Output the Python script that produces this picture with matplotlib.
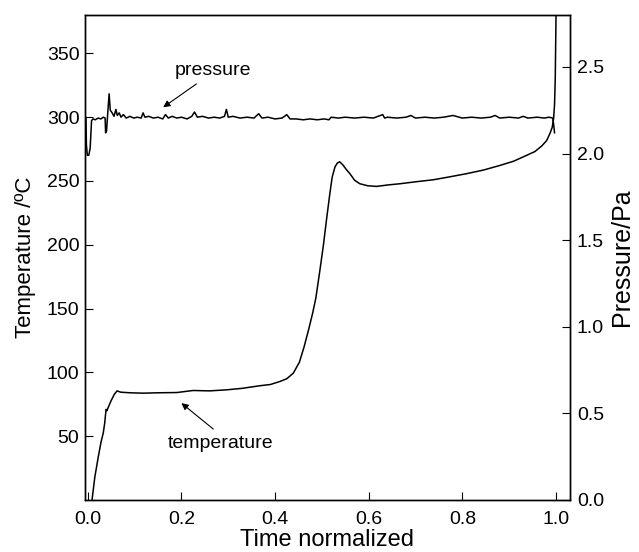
import matplotlib
matplotlib.use('Agg')
import matplotlib.pyplot as plt

plt.rcParams['font.family'] = ['Liberation Sans', 'DejaVu Sans']

# temperature (left axis, degC) vs normalized time
t_time = [0.009, 0.015, 0.022, 0.028, 0.033, 0.036, 0.039, 0.041, 0.043, 0.050,
          0.057, 0.0626, 0.070, 0.090, 0.118, 0.150, 0.190, 0.225, 0.260, 0.296,
          0.330, 0.367, 0.390, 0.410, 0.425, 0.439, 0.452, 0.462, 0.472, 0.480,
          0.487, 0.495, 0.503, 0.510, 0.517, 0.522, 0.528, 0.533, 0.538, 0.545,
          0.552, 0.560, 0.570, 0.581, 0.598, 0.617, 0.640, 0.667, 0.700, 0.738,
          0.770, 0.808, 0.845, 0.880, 0.910, 0.937, 0.955, 0.970, 0.980, 0.987,
          0.992, 0.995, 0.997, 0.9985, 0.9995, 1.0005]
t_val = [0, 18, 33, 45, 52.5, 60, 71, 70, 72, 78,
         83, 85.5, 84.5, 84, 83.7, 84, 84.2, 85.8, 85.5, 86.3,
         87.5, 89.5, 90.5, 92.8, 95, 99.4, 108, 120, 134, 146,
         158, 178, 199, 220, 240, 253, 261, 264, 265, 262.5,
         259, 255.6, 250.5, 247.8, 246.2, 245.7, 246.8, 247.8, 249.3, 250.9,
         253, 255.6, 258.5, 262.1, 265.5, 270, 273, 277.5, 281.6, 287,
         292, 299, 310, 330, 360, 392]

# pressure (right axis, Pa) vs normalized time
p_time = [-0.006, -0.004, -0.003, -0.001, 0.002, 0.005, 0.008, 0.011, 0.016, 0.022,
          0.028, 0.033, 0.037, 0.038, 0.040, 0.043, 0.0455, 0.048, 0.052, 0.056,
          0.060, 0.063, 0.067, 0.071, 0.076, 0.082, 0.090, 0.098, 0.106, 0.114,
          0.118, 0.122, 0.130, 0.140, 0.150, 0.160, 0.166, 0.172, 0.180, 0.190,
          0.200, 0.212, 0.222, 0.228, 0.234, 0.245, 0.258, 0.270, 0.282, 0.292,
          0.296, 0.300, 0.310, 0.325, 0.340, 0.355, 0.365, 0.372, 0.385, 0.400,
          0.415, 0.425, 0.432, 0.445, 0.460, 0.475, 0.490, 0.505, 0.515, 0.520,
          0.535, 0.550, 0.570, 0.590, 0.610, 0.630, 0.634, 0.640, 0.660, 0.680,
          0.690, 0.700, 0.720, 0.740, 0.760, 0.780, 0.800, 0.820, 0.840, 0.860,
          0.870, 0.880, 0.900, 0.920, 0.930, 0.940, 0.960, 0.975, 0.985, 0.993,
          0.995, 0.997]
p_val = [2.21, 2.21, 2.05, 1.99, 1.99, 2.03, 2.19, 2.20, 2.195, 2.205,
         2.20, 2.21, 2.205, 2.12, 2.13, 2.25, 2.345, 2.25, 2.235, 2.215,
         2.255, 2.22, 2.235, 2.21, 2.225, 2.205, 2.215, 2.205, 2.21, 2.205,
         2.235, 2.21, 2.215, 2.205, 2.21, 2.20, 2.225, 2.205, 2.215, 2.205,
         2.21, 2.20, 2.215, 2.24, 2.21, 2.215, 2.205, 2.21, 2.205, 2.215,
         2.255, 2.21, 2.215, 2.205, 2.21, 2.205, 2.23, 2.205, 2.21, 2.20,
         2.205, 2.225, 2.20, 2.20, 2.195, 2.20, 2.195, 2.20, 2.195, 2.21,
         2.205, 2.21, 2.205, 2.21, 2.205, 2.225, 2.205, 2.21, 2.205, 2.21,
         2.22, 2.205, 2.21, 2.205, 2.21, 2.22, 2.205, 2.21, 2.205, 2.21,
         2.22, 2.205, 2.21, 2.205, 2.215, 2.205, 2.21, 2.205, 2.21, 2.205,
         2.17, 2.12]

x_ticks = [0.0, 0.2, 0.4, 0.6, 0.8, 1.0]
t_ticks = [50, 100, 150, 200, 250, 300, 350]
p_ticks = [0.0, 0.5, 1.0, 1.5, 2.0, 2.5]

fig = plt.figure(figsize=(6.39, 5.52), dpi=100)
ax = fig.add_axes([85 / 639, 1 - 500 / 552, 485 / 639, 485 / 552])
ax2 = ax.twinx()

ax.plot(t_time, t_val, color='black', lw=1.1)
ax2.plot(p_time, p_val, color='black', lw=1.1)

ax.set_xlim(-0.006, 1.03)
ax.set_ylim(0, 380)
ax2.set_ylim(0, 2.8)

ax.set_xticks(x_ticks)
ax.set_xticklabels(['%.1f' % v for v in x_ticks])
ax.set_yticks(t_ticks)
ax2.set_yticks(p_ticks)
ax2.set_yticklabels(['%.1f' % v for v in p_ticks])

ax.tick_params(axis='both', direction='in', length=6, width=0.8, labelsize=14)
ax.tick_params(axis='x', pad=8)
ax.tick_params(axis='y', pad=4)
ax2.tick_params(axis='y', direction='in', length=6, width=0.8, labelsize=14, pad=5)

for a in (ax, ax2):
    for s in a.spines.values():
        s.set_linewidth(1.0)

ax.set_xlabel('Time normalized', fontsize=17, labelpad=1)
ax.set_ylabel('Temperature /ºC', fontsize=16, labelpad=8)
ax2.set_ylabel('Pressure/Pa', fontsize=18, labelpad=4)

arrow = dict(arrowstyle='-|>', color='black', lw=0.8,
             shrinkA=0, shrinkB=0, mutation_scale=10)
ax.annotate('', xy=(0.161, 307.7), xytext=(0.232, 326), arrowprops=arrow)
ax.text(0.186, 333, 'pressure', fontsize=14, ha='left', va='baseline')
ax.annotate('', xy=(0.200, 75.9), xytext=(0.268, 55.6), arrowprops=arrow)
ax.text(0.171, 41, 'temperature', fontsize=14, ha='left', va='baseline')

plt.savefig('out.png')
plt.close()
